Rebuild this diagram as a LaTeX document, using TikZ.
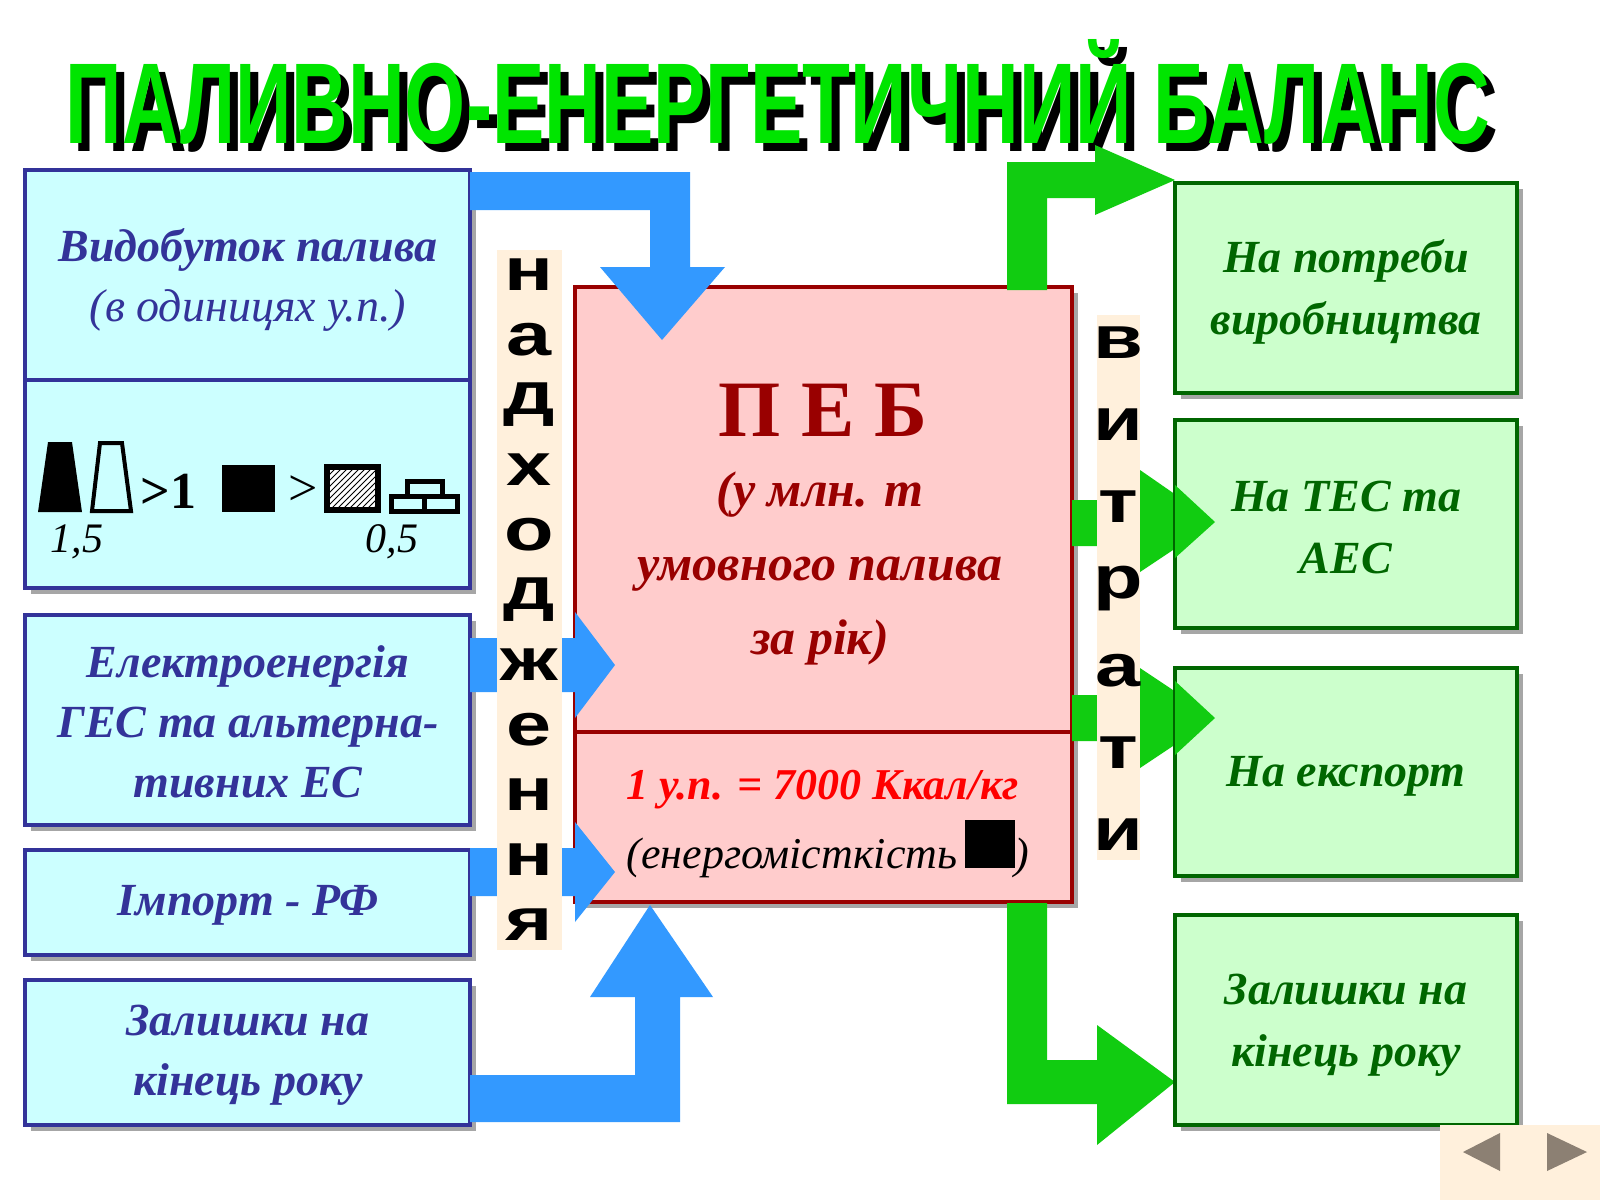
\documentclass[tikz,border=0pt]{standalone}
\usepackage{fontspec}
\setmainfont{Liberation Serif}
\newfontfamily\arial{Liberation Sans}
\usetikzlibrary{patterns}
\definecolor{lbox}{HTML}{CCFFFF}
\definecolor{lbd}{HTML}{333399}
\definecolor{cbox}{HTML}{FFCCCC}
\definecolor{cbd}{HTML}{990000}
\definecolor{rbox}{HTML}{CCFFCC}
\definecolor{rbd}{HTML}{006600}
\definecolor{barrow}{HTML}{3399FF}
\definecolor{garrow}{HTML}{11CC11}
\definecolor{strip}{HTML}{FFF0DC}
\tikzset{
  lb/.style={fill=lbox,draw=lbd,line width=2pt},
  cb/.style={fill=cbox,draw=cbd,line width=2pt},
  rb/.style={fill=rbox,draw=rbd,line width=2pt},
  shad/.style={fill=gray!70,draw=none},
  ltxt/.style={text=lbd,font=\fontsize{23}{30}\selectfont\bfseries\itshape,align=center},
  rtxt/.style={text=rbd,font=\fontsize{23}{31}\selectfont\bfseries\itshape,align=center},
  vl/.style={font=\arial\fontsize{30}{30}\selectfont\bfseries,inner sep=0pt,xscale=1.35},
}
\begin{document}
\begin{tikzpicture}[x=0.5pt,y=-0.5pt]
\useasboundingbox (0,0) rectangle (1600,1200);
\fill[white] (0,0) rectangle (1600,1200);
% title
\node[inner sep=0] (title) at (778,96) {\makebox[0pt][l]{\hspace*{4pt}\raisebox{-4pt}{\resizebox{712pt}{52pt}{\arial\bfseries\color{black}ПАЛИВНО-ЕНЕРГЕТИЧНИЙ БАЛАНС}}}\resizebox{712pt}{52pt}{\arial\bfseries\color{green!90!black!100}ПАЛИВНО-ЕНЕРГЕТИЧНИЙ БАЛАНС}};
% left boxes
\foreach \a/\b in {170/380,380/588,615/825,850/955,980/1125}{\fill[shad] (31,\a+6) rectangle (476,\b+6);}
\draw[lb] (25,170) rectangle (470,380);
\draw[lb] (25,380) rectangle (470,588);
\draw[lb] (25,615) rectangle (470,825);
\draw[lb] (25,850) rectangle (470,955);
\draw[lb] (25,980) rectangle (470,1125);
\node[ltxt] (l1) at (248,280) {Видобуток палива\\\mdseries(в одиницях у.п.)};
\node[ltxt] (l3) at (248,722) {Електроенергія\\ГЕС та альтерна-\\тивних ЕС};
\node[ltxt] (l4) at (248,905) {Імпорт - РФ};
\node[ltxt] (l5) at (248,1055) {Залишки на\\кінець року};
% symbols
\fill[black] (38,512) -- (48,442) -- (72,442) -- (82,512) -- cycle;
\draw[black,line width=2pt] (92,511) -- (100,443) -- (122,443) -- (131,511) -- cycle;
\node[font=\fontsize{26}{26}\selectfont\bfseries,anchor=base west,inner sep=0] at (140,508) {>1};
\fill[black] (222,465) rectangle (275,512);
\node[font=\fontsize{26}{26}\selectfont,anchor=base west,inner sep=0] at (288,505) {>};
\fill[white] (327,467) rectangle (378,510);
\fill[pattern=north east lines] (327,467) rectangle (378,510);
\draw[black,line width=3pt] (327,467) rectangle (378,510);
\draw[black,line width=2.5pt] (391,496) rectangle (457,511) (424,496) -- (424,511) (407,481) rectangle (442,496);
\node[font=\fontsize{21}{21}\selectfont\itshape] at (77,542) {1,5};
\node[font=\fontsize{21}{21}\selectfont\itshape] at (392,542) {0,5};
% center
\fill[shad] (581,293) rectangle (1078,908);
\draw[cb] (575,287) rectangle (1072,732);
\draw[cb] (575,732) rectangle (1072,902);
\node[text=cbd,font=\fontsize{40}{40}\selectfont\bfseries] (peb) at (823,410) {П Е Б};
\node[text=cbd,font=\fontsize{25}{37}\selectfont\bfseries\itshape,align=center] at (820,568) {(у млн. т\\умовного палива\\за рік)};
\node[text=red,font=\fontsize{22}{22}\selectfont\bfseries\itshape] at (823,790) {1 у.п. = 7000 Ккал/кг};
\node[font=\fontsize{22}{22}\selectfont\itshape,anchor=base] at (828,868) {(енергомісткість\,\textcolor{black}{\rule{25pt}{24pt}})};
% blue arrows
\fill[barrow] (470,172) -- (690,172) -- (690,267) -- (725,267) -- (662,340) -- (600,267) -- (650,267) -- (650,210) -- (470,210) -- cycle;
\fill[barrow] (470,638) -- (575,638) -- (575,612) -- (615,665) -- (575,718) -- (575,692) -- (470,692) -- cycle;
\fill[barrow] (470,848) -- (575,848) -- (575,822) -- (615,872) -- (575,922) -- (575,896) -- (470,896) -- cycle;
\fill[barrow] (470,1075) -- (635,1075) -- (635,997) -- (590,997) -- (650,905) -- (713,997) -- (680,997) -- (680,1122) -- (470,1122) -- cycle;
% strips
\fill[strip] (497,250) rectangle (562,950);
\foreach \c [count=\i from 0] in {н,а,д,х,о,д,ж,е,н,н,я}{\node[vl] at (529,275+\i*65) {\c};}
% green arrows
\fill[garrow] (1007,290) -- (1007,162) -- (1095,162) -- (1095,145) -- (1175,180) -- (1095,215) -- (1095,198) -- (1047,198) -- (1047,290) -- cycle;
\fill[garrow] (1072,500) -- (1140,500) -- (1140,470) -- (1215,522) -- (1140,572) -- (1140,546) -- (1072,546) -- cycle;
\fill[garrow] (1072,695) -- (1140,695) -- (1140,668) -- (1215,718) -- (1140,768) -- (1140,741) -- (1072,741) -- cycle;
\fill[garrow] (1007,903) -- (1047,903) -- (1047,1060) -- (1097,1060) -- (1097,1025) -- (1175,1082) -- (1097,1145) -- (1097,1104) -- (1007,1104) -- cycle;
\fill[strip] (1097,315) rectangle (1140,860);
\foreach \c [count=\i from 0] in {в,и,т,р,а,т,и}{\node[vl] at (1118,343+\i*82) {\c};}
% right boxes
\foreach \a/\b in {183/393,420/628,668/876,915/1125}{\fill[shad] (1181,\a+6) rectangle (1523,\b+6);}
\draw[rb] (1175,183) rectangle (1517,393);
\draw[rb] (1175,420) rectangle (1517,628);
\draw[rb] (1175,668) rectangle (1517,876);
\draw[rb] (1175,915) rectangle (1517,1125);
\node[rtxt] at (1346,292) {На потреби\\виробництва};
\node[rtxt] at (1346,527) {На ТЕС та\\АЕС};
\node[rtxt] at (1346,776) {На експорт};
\node[rtxt] at (1346,1025) {Залишки на\\кінець року};
% redraw arrowheads over right boxes
\fill[garrow] (1175,485) -- (1215,522) -- (1175,558) -- cycle;
\fill[garrow] (1175,681) -- (1215,718) -- (1175,755) -- cycle;
% nav
\fill[strip] (1440,1125) rectangle (1600,1200);
\fill[gray!80!brown] (1463,1152) -- (1500,1133) -- (1500,1171) -- cycle;
\fill[gray!80!brown] (1547,1133) -- (1587,1152) -- (1547,1171) -- cycle;
\end{tikzpicture}
\end{document}
